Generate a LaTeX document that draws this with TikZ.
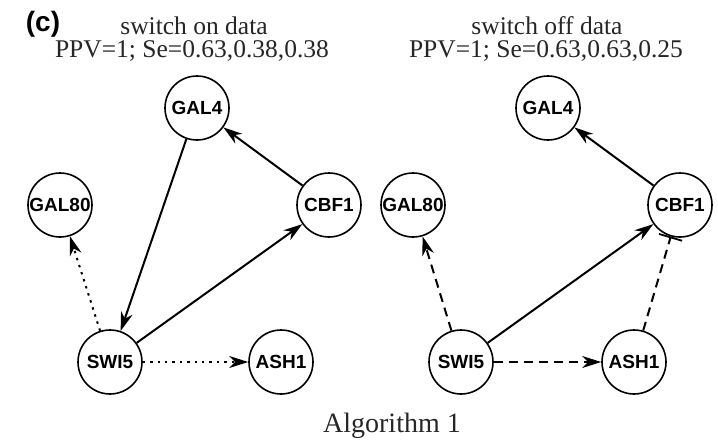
\documentclass[tikz,border=0pt]{standalone}
\usepackage{fontspec}
\setmainfont{Liberation Serif}
\setsansfont{Liberation Sans}
\usetikzlibrary{arrows.meta}
\begin{document}
\begin{tikzpicture}[x=1pt,y=-1pt,
  gene/.style={circle,draw,line width=1.6pt,minimum size=64pt,inner sep=0pt,
    font=\sffamily\bfseries\fontsize{19}{19}\selectfont},
  edge/.style={line width=2pt,-{Stealth[length=19pt,width=12pt,inset=6pt]}},
  dotl/.style={edge,dash pattern=on 2.4pt off 5pt},
  dashl/.style={edge,dash pattern=on 9pt off 6pt},
  inh/.style={line width=2pt,dash pattern=on 9pt off 6pt,-{Bar[width=24pt,line width=1.8pt]}},
  ttl/.style={font=\fontsize{25.5}{25.5}\selectfont,anchor=base,inner sep=0pt,text=black!85}]
\useasboundingbox (0,0) rectangle (718,442);
% panel label
\node[font=\sffamily\bfseries\fontsize{28}{28}\selectfont,inner sep=0pt] (lbl) at (43,24) {(c)};
% titles
\node[ttl] (t1a) at (194,34) {switch on data};
\node[ttl] (t1b) at (192,57) {PPV=1; Se=0.63,0.38,0.38};
\node[ttl] (t2a) at (547,34) {switch off data};
\node[ttl] (t2b) at (546,57) {PPV=1; Se=0.63,0.63,0.25};
\node[font=\fontsize{28}{28}\selectfont,anchor=base,inner sep=0pt,text=black!85] (alg) at (392,432) {Algorithm 1};
% left network
\node[gene] (lGAL4) at (197,108) {GAL4};
\node[gene] (lGAL80) at (60,205) {GAL80};
\node[gene] (lCBF1) at (329,205) {CBF1};
\node[gene] (lSWI5) at (110,362) {SWI5};
\node[gene] (lASH1) at (281,362) {ASH1};
\draw[edge] (lGAL4) -- (lSWI5);
\draw[edge] (lCBF1) -- (lGAL4);
\draw[edge] (lSWI5) -- (lCBF1);
\draw[dotl] (lSWI5) -- (lGAL80);
\draw[dotl] (lSWI5) -- (lASH1);
% right network
\node[gene] (rGAL4) at (548,108) {GAL4};
\node[gene] (rGAL80) at (413,205) {GAL80};
\node[gene] (rCBF1) at (680,205) {CBF1};
\node[gene] (rSWI5) at (461,362) {SWI5};
\node[gene] (rASH1) at (634,362) {ASH1};
\draw[edge] (rCBF1) -- (rGAL4);
\draw[edge] (rSWI5) -- (rCBF1);
\draw[dashl] (rSWI5) -- (rGAL80);
\draw[dashl] (rSWI5) -- (rASH1);
\draw[inh] (rASH1) -- (rCBF1);
\end{tikzpicture}
\end{document}
